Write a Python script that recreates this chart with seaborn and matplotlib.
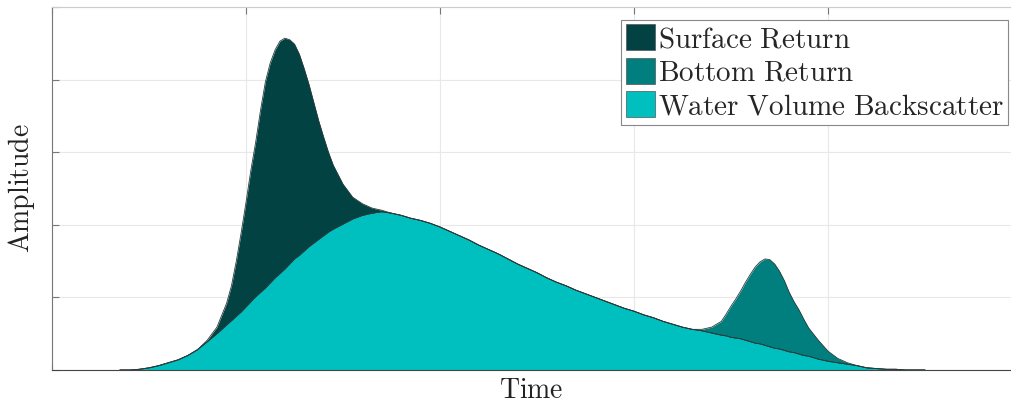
import matplotlib
matplotlib.use("Agg")

import matplotlib.pyplot as plt
import pandas as pd
import seaborn as sns
from matplotlib.patches import Patch

# time axis (arbitrary units, one grid cell = 1), denser around the peaks
time = [
    0.35, 0.40, 0.45, 0.50, 0.55, 0.60, 0.65, 0.70, 0.75, 0.80, 0.85, 0.90,
    0.925, 0.95, 0.975, 1.00, 1.025, 1.05, 1.075, 1.10, 1.125, 1.15, 1.175,
    1.20, 1.225, 1.25, 1.275, 1.30, 1.325, 1.35, 1.375, 1.40, 1.425, 1.45,
    1.50, 1.55, 1.60, 1.65, 1.70, 1.75, 1.80, 1.85, 1.90, 1.95,
    2.00, 2.05, 2.10, 2.15, 2.20, 2.25, 2.30, 2.35, 2.40, 2.45,
    2.50, 2.55, 2.60, 2.65, 2.70, 2.75, 2.80, 2.85, 2.90, 2.95,
    3.00, 3.05, 3.10, 3.15, 3.20, 3.25, 3.30, 3.35, 3.40, 3.45,
    3.475, 3.50, 3.525, 3.55, 3.575, 3.60, 3.625, 3.65, 3.675, 3.70,
    3.725, 3.75, 3.775, 3.80, 3.825, 3.85, 3.875, 3.90,
    3.95, 4.00, 4.05, 4.10, 4.15, 4.20, 4.25, 4.30, 4.35, 4.40, 4.45, 4.50,
]

# water volume backscatter (base layer)
volume = [
    0.00, 0.00, 0.01, 0.03, 0.06, 0.10, 0.14, 0.20, 0.28, 0.39, 0.50, 0.62,
    0.68, 0.74, 0.80, 0.87, 0.94, 1.01, 1.07, 1.13, 1.20, 1.27, 1.33,
    1.39, 1.46, 1.53, 1.58, 1.64, 1.70, 1.75, 1.80, 1.85, 1.90, 1.94,
    2.01, 2.08, 2.13, 2.16, 2.18, 2.16, 2.13, 2.09, 2.06, 2.02,
    1.97, 1.91, 1.85, 1.79, 1.72, 1.66, 1.60, 1.53, 1.46, 1.40,
    1.34, 1.27, 1.21, 1.16, 1.10, 1.05, 1.00, 0.95, 0.90, 0.85,
    0.81, 0.76, 0.72, 0.67, 0.63, 0.59, 0.56, 0.54, 0.51, 0.48,
    0.47, 0.45, 0.44, 0.43, 0.41, 0.39, 0.37, 0.36, 0.34, 0.32,
    0.30, 0.29, 0.27, 0.25, 0.24, 0.22, 0.20, 0.19,
    0.15, 0.12, 0.10, 0.08, 0.06, 0.03, 0.02, 0.01, 0.01, 0.00, 0.00, 0.00,
]

# surface return (stacked on the volume)
surface = (
    [0.00, 0.00, 0.00, 0.00, 0.00, 0.00, 0.00, 0.00, 0.00, 0.02, 0.09, 0.30]
    + [0.48, 0.76, 1.09, 1.44, 1.81, 2.13, 2.51, 2.84, 3.03, 3.14, 3.20,
       3.18, 3.09, 2.96, 2.77, 2.51, 2.23, 1.93, 1.63, 1.36, 1.10, 0.88]
    + [0.55, 0.30, 0.16, 0.07, 0.02] + [0.00] * 35
    + [0.00] * 18
    + [0.00] * 12
)

# bottom return (stacked on the volume)
bottom = (
    [0.00] * 12
    + [0.00] * 22
    + [0.00] * 37 + [0.02, 0.08, 0.19]
    + [0.30, 0.43, 0.54, 0.66, 0.80, 0.93, 1.05, 1.13, 1.19, 1.20,
       1.16, 1.07, 0.96, 0.82, 0.70, 0.61, 0.50, 0.39]
    + [0.26, 0.14, 0.06, 0.02] + [0.00] * 8
)

labels = ["Surface Return", "Bottom Return", "Water Volume Backscatter"]
colors = ["#034242", "#017f7f", "#00bfbf"]
edge = "#2b3b3b"

assert len(time) == len(volume) == len(surface) == len(bottom)

df = pd.DataFrame({"time": time, "volume": volume,
                   "surface": surface, "bottom": bottom})
df["surface_top"] = df["volume"] + df["surface"]
df["bottom_top"] = df["volume"] + df["bottom"]

sns.set_theme(style="whitegrid")
plt.rcParams["mathtext.fontset"] = "cm"

fig = plt.figure(figsize=(10.11, 4.04), dpi=100)
ax = fig.add_axes([52 / 1011, 34 / 404, 959 / 1011, 363 / 404])

ax.fill_between(df["time"], 0, df["surface_top"], color=colors[0], lw=0)
ax.fill_between(df["time"], 0, df["bottom_top"], color=colors[1], lw=0)
ax.fill_between(df["time"], 0, df["volume"], color=colors[2], lw=0)
for col in ["surface_top", "bottom_top", "volume"]:
    sns.lineplot(data=df, x="time", y=col, ax=ax, color=edge, lw=0.6)

ax.set_xlim(0, 959 / 194)
ax.set_ylim(0, 5)
ax.set_xticks([0, 1, 2, 3, 4])
ax.set_yticks([0, 1, 2, 3, 4, 5])
ax.set_xticklabels([])
ax.set_yticklabels([])
ax.tick_params(direction="in", length=5, width=0.8, color="#777777",
               top=True, bottom=True, left=True, right=False)
ax.grid(True, color="#e8e8e8", lw=0.8)
ax.set_axisbelow(True)

for side in ["left", "top", "bottom"]:
    ax.spines[side].set_visible(True)
    ax.spines[side].set_linewidth(0.8)
ax.spines["left"].set_color("#777777")
ax.spines["top"].set_color("#cccccc")
ax.spines["bottom"].set_color("#444444")
ax.spines["right"].set_visible(False)

ax.set_xlabel(r"$\mathrm{Time}$", fontsize=20, color="#222222", labelpad=1)
ax.set_ylabel(r"$\mathrm{Amplitude}$", fontsize=20, color="#222222", labelpad=7)

handles = [Patch(facecolor=c, edgecolor="#555555", lw=0.5) for c in colors]
leg = ax.legend(handles, [r"$\mathrm{" + l.replace(" ", r"\ ") + "}$" for l in labels],
                loc="upper right", bbox_to_anchor=(956 / 959, 350 / 363),
                fontsize=21, frameon=True, fancybox=False, framealpha=1,
                edgecolor="#888888", handlelength=1.0, handleheight=1.0,
                handletextpad=0.1, labelspacing=0.15, borderpad=0.15,
                borderaxespad=0)
leg.get_frame().set_linewidth(0.8)

fig.savefig("out.png", dpi=100)
